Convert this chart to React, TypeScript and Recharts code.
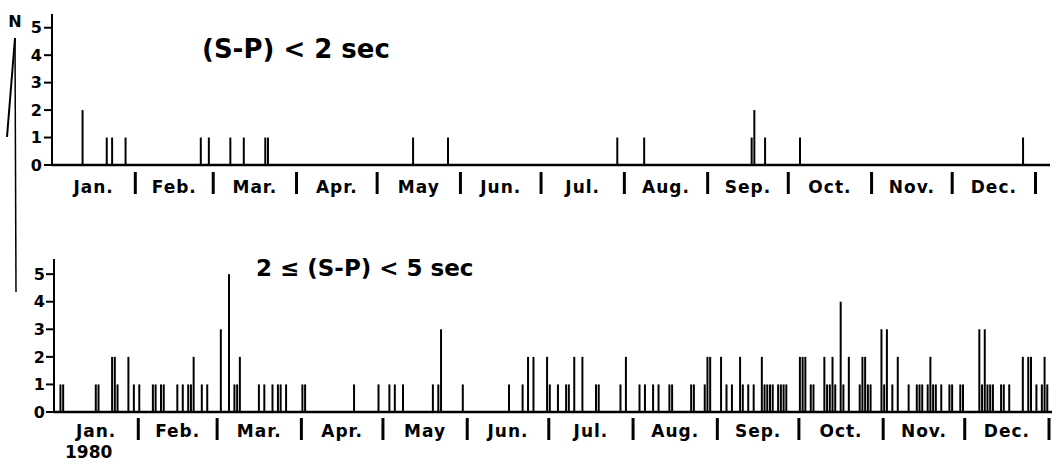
import React from 'react';
import { BarChart, Bar, XAxis, YAxis } from 'recharts';

// daily counts of events, 1980 (day of year 1..366)
const MONTHS = ['Jan.', 'Feb.', 'Mar.', 'Apr.', 'May', 'Jun.', 'Jul.', 'Aug.', 'Sep.', 'Oct.', 'Nov.', 'Dec.'];
const MONTH_STARTS = [0, 31, 60, 91, 121, 152, 182, 213, 244, 274, 305, 335, 366];
const N_TICKS = [0, 1, 2, 3, 4, 5];

// (S-P) < 2 sec
const SHORT_DAYS = [12, 21, 23, 28, 56, 59, 67, 72, 80, 81, 135, 148, 211, 221, 261, 262, 266, 279, 362];
const SHORT_COUNTS = [2, 1, 1, 1, 1, 1, 1, 1, 1, 1, 1, 1, 1, 1, 1, 2, 1, 1, 1];

// 2 <= (S-P) < 5 sec
const MID_DAYS = [
    3, 4, 16, 17, 22, 23, 24, 28, 30, 32, 37, 38, 40, 41, 46, 48, 50, 51, 52, 55, 57,
    62, 65, 67, 68, 69, 76, 78, 81, 83, 84, 86, 92, 93, 111, 120, 124, 126, 129,
    140, 142, 143, 151, 168, 173, 175, 177, 182, 183, 186, 189, 190, 192, 195,
    200, 201, 209, 211, 216, 218, 221, 223, 227, 228, 235, 236, 240, 241, 242,
    246, 248, 250, 253, 254, 256, 258, 261, 262, 263, 264, 265, 267, 268, 269, 270,
    275, 276, 277, 279, 280, 284, 285, 286, 287, 288, 290, 291, 293, 297, 298, 299,
    300, 301, 305, 306, 307, 309, 311, 315, 318, 319, 320, 322, 323, 324, 325, 327,
    330, 331, 334, 335, 341, 342, 343, 344, 345, 346, 349, 350, 352, 357, 359, 360,
    362, 364, 365, 366,
];
const MID_COUNTS = [
    1, 1, 1, 1, 2, 2, 1, 2, 1, 1, 1, 1, 1, 1, 1, 1, 1, 1, 2, 1, 1,
    3, 5, 1, 1, 2, 1, 1, 1, 1, 1, 1, 1, 1, 1, 1, 1, 1, 1,
    1, 1, 3, 1, 1, 1, 2, 2, 2, 1, 1, 1, 1, 2, 2,
    1, 1, 1, 2, 1, 1, 1, 1, 1, 1, 1, 1, 1, 2, 2,
    2, 1, 1, 2, 1, 1, 1, 2, 1, 1, 1, 1, 1, 1, 1, 1,
    2, 2, 2, 1, 1, 2, 1, 1, 2, 1, 4, 1, 2, 1, 2, 2,
    1, 1, 3, 1, 3, 1, 2, 1, 1, 1, 1, 1, 2, 1, 1, 1,
    1, 1, 1, 1, 3, 1, 3, 1, 1, 1, 1, 1, 1, 2, 2, 2,
    1, 1, 2, 1,
];

const FONT = '"DejaVu Sans", sans-serif';

const shortData = SHORT_DAYS.map((day, i) => ({ day, n: SHORT_COUNTS[i] }));
const midData = MID_DAYS.map((day, i) => ({ day, n: MID_COUNTS[i] }));

const sepTicks = MONTH_STARTS.map((d) => d + 0.5);
const labelTicks = MONTHS.map((_, i) => (MONTH_STARTS[i] + MONTH_STARTS[i + 1]) / 2 + 0.5);
const labelAt = new Map(labelTicks.map((v, i) => [v, MONTHS[i]]));

function MonthTick(props: any) {
    const { x, y, payload, gap, labelDy } = props;
    const label = labelAt.get(payload.value);
    if (label) {
        return (
            <text
                x={x}
                y={y + labelDy}
                textAnchor="middle"
                fontFamily={FONT}
                fontWeight="bold"
                fontSize={17}
                letterSpacing={1}
                fill="#000"
            >
                {label}
            </text>
        );
    }
    if (payload.value === sepTicks[0]) return <g />;
    return <line x1={x} x2={x} y1={y + gap} y2={y + gap + 22} stroke="#000" strokeWidth={3} />;
}

interface PanelProps {
    data: { day: number; n: number }[];
    top: number;
    height: number;
    marginTop: number;
    marginRight: number;
    axisWidth: number;
    xAxisHeight: number;
    xMax: number;
    yMax: number;
    gap: number;
    labelDy: number;
    tickMargin: number;
}

function Panel(p: PanelProps) {
    return (
        <div style={{ position: 'absolute', left: 0, top: p.top }}>
            <BarChart
                width={1056}
                height={p.height}
                data={p.data}
                margin={{ top: p.marginTop, right: p.marginRight, bottom: 0, left: 0 }}
            >
                <XAxis
                    type="number"
                    dataKey="day"
                    domain={[0.5, p.xMax]}
                    ticks={[...sepTicks, ...labelTicks]}
                    interval={0}
                    height={p.xAxisHeight}
                    tickSize={0}
                    tickMargin={0}
                    tickLine={false}
                    axisLine={{ stroke: '#000', strokeWidth: 2.5 }}
                    tick={(t: any) => <MonthTick {...t} gap={p.gap} labelDy={p.labelDy} />}
                    allowDataOverflow
                />
                <YAxis
                    type="number"
                    domain={[0, p.yMax]}
                    ticks={N_TICKS}
                    interval={0}
                    width={p.axisWidth}
                    tickSize={8}
                    tickMargin={p.tickMargin}
                    axisLine={{ stroke: '#000', strokeWidth: 2 }}
                    tickLine={{ stroke: '#000', strokeWidth: 2 }}
                    tick={{ fill: '#000', fontSize: 16, fontWeight: 'bold', fontFamily: FONT }}
                    allowDataOverflow
                />
                <Bar dataKey="n" fill="#000" barSize={2} isAnimationActive={false} />
            </BarChart>
        </div>
    );
}

export default function App() {
    return (
        <div style={{ position: 'absolute', left: 0, top: 0, width: 1056, height: 464, background: '#fff' }}>
            <Panel
                data={shortData}
                top={0}
                height={205}
                marginTop={14}
                marginRight={6}
                axisWidth={52}
                xAxisHeight={40}
                xMax={371.9}
                yMax={5.5}
                gap={7}
                labelDy={28}
                tickMargin={2}
            />
            <Panel
                data={midData}
                top={240}
                height={224}
                marginTop={19}
                marginRight={4}
                axisWidth={54}
                xAxisHeight={52}
                xMax={367.6}
                yMax={5.55}
                gap={6}
                labelDy={25}
                tickMargin={1}
            />
            <svg
                width={1056}
                height={464}
                style={{ position: 'absolute', left: 0, top: 0, pointerEvents: 'none' }}
                fontFamily={FONT}
                fontWeight="bold"
                fill="#000"
            >
                <text x={15} y={27} textAnchor="middle" fontSize={16}>
                    N
                </text>
                <line x1={15} y1={38} x2={7} y2={137} stroke="#000" strokeWidth={2} />
                <line x1={15} y1={38} x2={16} y2={292} stroke="#000" strokeWidth={1.5} />
                <text x={202} y={58} fontSize={26}>
                    (S-P) &lt; 2 sec
                </text>
                <text x={256} y={276} fontSize={23}>
                    2 ≤ (S-P) &lt; 5 sec
                </text>
                <text x={65} y={458} fontSize={17}>
                    1980
                </text>
            </svg>
        </div>
    );
}
